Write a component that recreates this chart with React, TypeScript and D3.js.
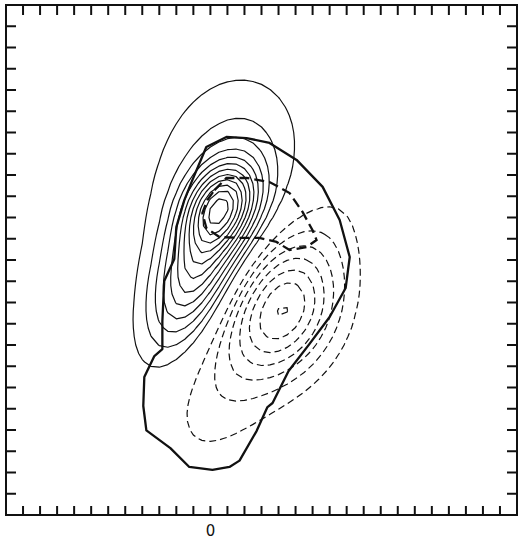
import React from "react";
import * as d3 from "d3";

// Axis extents (data units) and tick positions
const X_DOMAIN: [number, number] = [-12, 18];
const Y_DOMAIN: [number, number] = [0, 24];
const X_TICKS = d3.range(-11, 18);
const Y_TICKS = d3.range(1, 24);
const X_LABELS = [0];

// Field components: centre, amplitude, spread along/across the major axis, axis angle (deg)
const COMP_CX = [0.65, -0.65, 1.0, 4.47, 3.18];
const COMP_CY = [14.59, 11.91, 15.76, 9.65, 9.18];
const COMP_AMP = [6.5, 6.5, 2.3, -4.7, -2.8];
const COMP_SU = [1.76, 3.65, 4.5, 2.65, 5.6];
const COMP_SV = [1.3, 1.5, 3.1, 2.06, 2.15];
const COMP_ANGLE = [60, 68, 78, 70, 60];

// Contour levels
const POS_LEVELS = d3.range(1, 13);
const NEG_LEVELS = d3.range(1, 8); // drawn as -1 … -7

// Region where the positive contours are shown
const CLIP_X = [-12, 18, 18, -3, -3, -3.9, -12];
const CLIP_Y = [24, 24, 0, 0, 5.65, 6.5, 6.5];

// Thick outline
const OUTLINE_X = [-3.88, -3.29, -2.82, -2.82, -2.71, -2.12, -2.0, -1.53, -1.06, -0.24, 0.94, 2.12, 3.47, 5.06, 6.59, 7.59, 8.18, 7.94, 7.0, 5.82, 4.59, 3.65, 3.35, 2.71, 1.71, 1.12, 0.12, -1.24, -2.35, -3.76, -3.94];
const OUTLINE_Y = [6.49, 7.48, 7.81, 9.13, 11.01, 12.05, 13.55, 14.82, 15.76, 17.32, 17.79, 17.74, 17.51, 16.71, 15.44, 13.88, 12.14, 10.68, 9.32, 8.05, 6.78, 5.27, 5.08, 3.95, 2.56, 2.26, 2.12, 2.26, 3.15, 3.98, 5.13];

// Thick dashed loop
const LOOP_X = [0.24, 0.94, 2.12, 3.47, 4.65, 5.41, 5.99, 6.23, 5.65, 4.65, 3.88, 2.88, 1.71, 0.53, -0.24, -0.47, -0.18];
const LOOP_Y = [15.29, 15.86, 15.86, 15.67, 15.15, 14.26, 13.41, 12.94, 12.61, 12.47, 12.85, 13.04, 13.04, 13.08, 13.51, 14.21, 14.82];

const WIDTH = 518;
const HEIGHT = 542;
const FRAME = { left: 6, right: 517, top: 5, bottom: 515 };
const ASPECT = 1.25; // y unit length relative to x unit length
const STEP_X = 0.5;
const STEP_Y = 0.4;

function fieldAt(x: number, y: number): number {
  let v = 0;
  for (let k = 0; k < COMP_CX.length; k++) {
    const dx = x - COMP_CX[k];
    const dy = (y - COMP_CY[k]) * ASPECT;
    const t = (COMP_ANGLE[k] * Math.PI) / 180;
    const u = dx * Math.cos(t) + dy * Math.sin(t);
    const w = -dx * Math.sin(t) + dy * Math.cos(t);
    v += COMP_AMP[k] * Math.exp(-0.5 * ((u * u) / (COMP_SU[k] ** 2) + (w * w) / (COMP_SV[k] ** 2)));
  }
  return v;
}

export default function App() {
  const x = d3.scaleLinear().domain(X_DOMAIN).range([FRAME.left, FRAME.right]);
  const y = d3.scaleLinear().domain(Y_DOMAIN).range([FRAME.bottom, FRAME.top]);

  const nx = Math.round((X_DOMAIN[1] - X_DOMAIN[0]) / STEP_X) + 1;
  const ny = Math.round((Y_DOMAIN[1] - Y_DOMAIN[0]) / STEP_Y) + 1;
  const values = new Array(nx * ny);
  for (let j = 0; j < ny; j++) {
    const yy = Y_DOMAIN[0] + j * STEP_Y;
    for (let i = 0; i < nx; i++) {
      values[j * nx + i] = fieldAt(X_DOMAIN[0] + i * STEP_X, yy);
    }
  }
  const negValues = values.map((v) => -v);

  const gen = d3.contours().size([nx, ny]);
  const toPath = (geom: any) => {
    let s = "";
    for (const poly of geom.coordinates) {
      for (const ring of poly) {
        s +=
          ring
            .map((p: number[], idx: number) => {
              const px = x(X_DOMAIN[0] + (p[0] - 0.5) * STEP_X);
              const py = y(Y_DOMAIN[0] + (p[1] - 0.5) * STEP_Y);
              return (idx ? "L" : "M") + px.toFixed(2) + "," + py.toFixed(2);
            })
            .join("") + "Z";
      }
    }
    return s;
  };
  const posPaths = gen.thresholds(POS_LEVELS)(values).map(toPath);
  const negPaths = gen.thresholds(NEG_LEVELS)(negValues).map(toPath);

  const closedLine = d3
    .line<number>()
    .x((i) => x(OUTLINE_X[i]))
    .y((i) => y(OUTLINE_Y[i]))
    .curve(d3.curveLinearClosed);
  const loopLine = d3
    .line<number>()
    .x((i) => x(LOOP_X[i]))
    .y((i) => y(LOOP_Y[i]))
    .curve(d3.curveLinearClosed);
  const clipLine = d3
    .line<number>()
    .x((i) => x(CLIP_X[i]))
    .y((i) => y(CLIP_Y[i]))
    .curve(d3.curveLinearClosed);

  return (
    <svg
      width={WIDTH}
      height={HEIGHT}
      style={{ position: "absolute", left: 0, top: 0, background: "#fff" }}
    >
      <defs>
        <clipPath id="posClip">
          <path d={clipLine(d3.range(CLIP_X.length)) || ""} />
        </clipPath>
      </defs>
      <g clipPath="url(#posClip)" fill="none" stroke="#111" strokeWidth={1.2} strokeLinejoin="round">
        {posPaths.map((d, i) => (
          <path key={i} d={d} />
        ))}
      </g>
      <g fill="none" stroke="#111" strokeWidth={1.2} strokeDasharray="7,4">
        {negPaths.map((d, i) => (
          <path key={i} d={d} />
        ))}
      </g>
      <path
        d={closedLine(d3.range(OUTLINE_X.length)) || ""}
        fill="none"
        stroke="#111"
        strokeWidth={2.3}
        strokeLinejoin="round"
      />
      <path
        d={loopLine(d3.range(LOOP_X.length)) || ""}
        fill="none"
        stroke="#111"
        strokeWidth={2.3}
        strokeDasharray="10,5"
      />
      {/* frame */}
      <rect
        x={FRAME.left}
        y={FRAME.top}
        width={FRAME.right - FRAME.left}
        height={FRAME.bottom - FRAME.top}
        fill="none"
        stroke="#111"
        strokeWidth={2}
      />
      <g stroke="#111" strokeWidth={2}>
        {X_TICKS.map((t) => (
          <g key={"x" + t}>
            <line x1={x(t)} x2={x(t)} y1={FRAME.top} y2={FRAME.top + 10} />
            <line x1={x(t)} x2={x(t)} y1={FRAME.bottom} y2={FRAME.bottom - 9} />
          </g>
        ))}
        {Y_TICKS.map((t) => (
          <g key={"y" + t}>
            <line x1={FRAME.left} x2={FRAME.left + 10} y1={y(t)} y2={y(t)} />
            <line x1={FRAME.right} x2={FRAME.right - 10} y1={y(t)} y2={y(t)} />
          </g>
        ))}
      </g>
      {X_LABELS.map((t) => (
        <text
          key={t}
          x={x(t)}
          y={FRAME.bottom + 21}
          textAnchor="middle"
          fontFamily="DejaVu Sans, sans-serif"
          fontSize={15}
          fill="#111"
        >
          {t}
        </text>
      ))}
    </svg>
  );
}
